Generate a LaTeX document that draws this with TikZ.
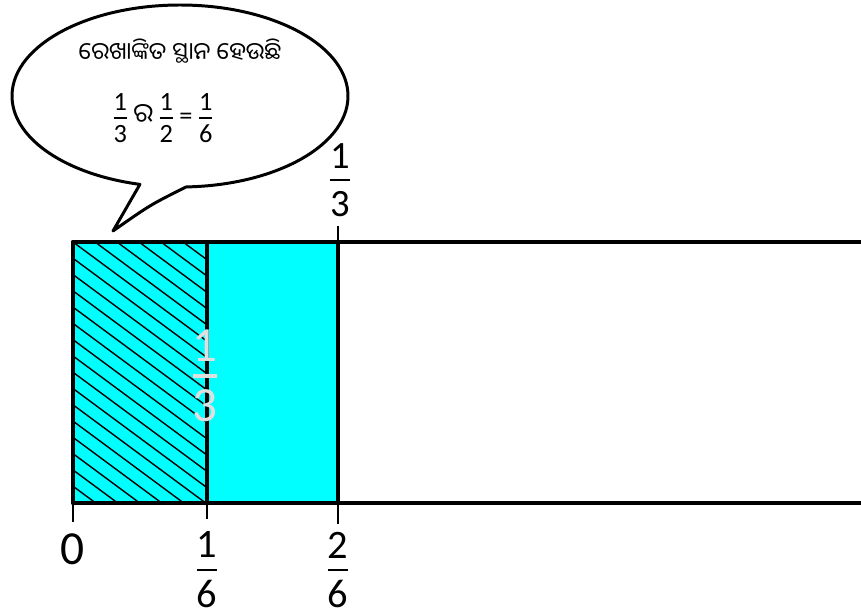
\documentclass[tikz,border=0pt]{standalone}
\usepackage{amsmath}
\usepackage{fontspec}
\setmainfont{Carlito}
\newfontfamily\odia[Script=Oriya]{Noto Sans Oriya UI}
\newcommand{\fr}[3][1.5pt]{\ensuremath{\genfrac{}{}{#1}{1}%
  {\mbox{\rule[-0.2em]{0pt}{0.5em}#2}}{\mbox{\rule{0pt}{0.84em}#3}}}}
\definecolor{strip}{RGB}{0,255,255}

\begin{document}
\begin{tikzpicture}[x=0.02cm,y=-0.02cm,line join=round,
  frame/.style={line width=2.8pt},
  midline/.style={line width=2.2pt},
  tickln/.style={line width=1.7pt},
  hatch/.style={line width=0.8pt},
  lbl/.style={inner sep=0pt,font=\fontsize{23}{27}\selectfont}]
  \useasboundingbox (0,0) rectangle (861,615);
  % the strip and its parts
  \coordinate (tl) at (73,242);  \coordinate (bl) at (73,503);
  \coordinate (m1) at (207,242); \coordinate (m1b) at (207,503);
  \coordinate (m2) at (338,242); \coordinate (m2b) at (338,503);
  \coordinate (tr) at (861,242); \coordinate (br) at (861,503);
  \fill[strip] (tl) rectangle (m2b);
  \begin{scope}
    \clip (tl) rectangle (m1b);
    \foreach \k in {-17,...,7}
      \draw[hatch] (73+\k*22,242) -- ++(400,296);
  \end{scope}
  \draw[frame] (tr) -- (tl) -- (bl) -- (br);
  \draw[midline] (m1) -- (m1b);
  \draw[frame] (m2) -- (m2b);
  % ticks
  \coordinate (t0) at (73,522);  \coordinate (t1) at (207,519);
  \coordinate (t2) at (338,524); \coordinate (t3) at (338,226);
  \draw[tickln] (bl) -- (t0);
  \draw[tickln] (m1b) -- (t1);
  \draw[tickln] (m2b) -- (t2);
  \draw[tickln] (m2) -- (t3);
  % labels
  \node[lbl,font=\fontsize{27}{30}\selectfont] (n0) at (73,549) {0};
  \node[lbl] (n16) at (207,570) {\fr{1}{6}};
  \node[lbl] (n26) at (338,570) {\fr{2}{6}};
  \node[lbl,font=\fontsize{22}{26}\selectfont] (n13) at (340,180) {\fr{1}{3}};
  \node[lbl,text=gray!25,font=\fontsize{28}{32}\selectfont] (in13) at (205,376) {\fr[1.8pt]{1}{3}};
  % speech bubble
  \draw[line width=1.7pt] (180,96) ++(88:168 and 91)
    arc[start angle=88,end angle=-256.2,x radius=168,y radius=91]
    -- (113,231) .. controls (150,205) .. (186,187);
  \node[font=\odia\fontsize{13.5}{16}\selectfont] (say) at (180,51) {ରେଖାଙ୍କିତ ସ୍ଥାନ ହେଉଛି};
  \node[font=\fontsize{15}{18}\selectfont,inner sep=0pt] (eq) at (163,118)
    {\fr[0.8pt]{1}{3}\,{\odia ର}\,\fr[0.8pt]{1}{2}\,=\,\fr[0.8pt]{1}{6}};
\end{tikzpicture}
\end{document}
